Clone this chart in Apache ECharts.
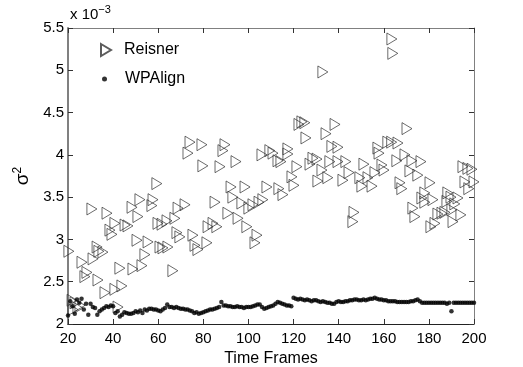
<!DOCTYPE html>
<html>
<head>
<meta charset="utf-8">
<script src="https://cdn.jsdelivr.net/npm/echarts@6/dist/echarts.min.js"></script>
<style>
  html, body { margin: 0; padding: 0; background: #fff; }
  #chart { width: 523px; height: 367px; }
</style>
</head>
<body>
<div id="chart"></div>
<script>
// Reisner: frame / variance (x 1e-3)
const reisnerX = [
  20.4, 30.6, 37.3, 40.8, 38.6, 39.5, 45.3, 46.6, 48.4, 51.9, 57.7, 57.2, 51.0, 59.9, 61.7,
  63.9, 67.4, 68.8, 71.9, 68.3, 69.6, 75.4, 76.3, 77.6, 81.6, 82.1, 66.5, 50.6, 55.5, 60.8,
  62.1, 64.3, 54.1, 52.8, 48.8, 43.0, 43.9, 40.8, 36.4, 33.3, 27.5, 28.4, 26.2, 31.1, 32.9,
  33.7, 35.5, 42.2, 59.4, 74.1, 79.4, 73.2, 79.8, 21.8, 23.1, 24.4, 25.3, 22.2,
  89.6, 88.7, 87.4, 94.5, 92.3, 98.5, 85.2, 93.1, 97.1, 100.2, 102.0, 104.7, 90.9, 95.4, 99.3,
  86.0, 84.3, 103.8, 102.9,
  123.7, 125.0, 122.4, 138.4, 134.4, 125.5, 137.0, 139.7, 106.0, 109.5, 110.9, 113.1, 114.4,
  117.5, 117.5, 128.6, 130.4, 127.3, 121.5, 136.1, 139.7, 143.2, 132.6, 144.6, 119.3, 120.2,
  130.8, 135.2, 141.9, 108.2, 113.5, 115.3, 106.4, 146.8, 146.3, 133.0,
  170.3, 161.8, 163.5, 166.3, 157.4, 157.9, 151.2, 165.8, 169.4, 172.5, 176.5, 159.2, 160.1,
  156.1, 149.4, 153.0, 150.3, 154.8, 171.6, 175.1, 167.2, 168.0, 195.1, 197.3, 199.1, 196.0,
  200.0, 197.7, 180.5, 178.2, 176.9, 178.2, 181.8, 188.4, 189.8, 192.9, 188.0, 191.5, 184.0,
  185.8, 187.1, 190.2, 194.2, 190.7, 172.9, 173.8, 180.9, 182.7, 163.6, 164.0
]
const reisnerY = [
  2.86, 3.36, 3.31, 3.19, 3.11, 3.06, 3.17, 3.16, 3.38, 3.47, 3.47, 3.40, 3.27, 3.19, 3.18,
  3.22, 3.25, 3.37, 3.41, 3.08, 3.03, 3.05, 2.93, 2.88, 2.96, 3.15, 2.63, 2.99, 2.97, 2.91,
  2.90, 2.91, 2.82, 2.69, 2.65, 2.66, 2.45, 2.41, 2.37, 2.52, 2.56, 2.61, 2.73, 2.77, 2.91,
  2.86, 2.85, 2.20, 3.66, 4.15, 4.12, 4.02, 3.87, 2.28, 2.25, 2.19, 2.22, 2.17,
  4.12, 4.05, 3.86, 3.92, 3.62, 3.62, 3.44, 3.50, 3.43, 3.37, 3.41, 3.44, 3.31, 3.25, 3.15,
  3.15, 3.19, 3.05, 2.96,
  4.39, 4.38, 4.36, 4.36, 4.25, 4.20, 4.10, 4.09, 4.00, 4.05, 4.02, 3.93, 3.92,
  4.07, 4.01, 3.96, 3.95, 3.89, 3.86, 3.92, 3.92, 3.92, 3.82, 3.79, 3.74, 3.64,
  3.69, 3.73, 3.70, 3.62, 3.60, 3.53, 3.47, 3.32, 3.21, 4.98,
  4.31, 4.15, 4.15, 4.14, 4.08, 4.02, 3.89, 3.93, 4.00, 3.93, 3.92, 3.88, 3.82,
  3.79, 3.73, 3.73, 3.63, 3.63, 3.81, 3.76, 3.67, 3.60, 3.86, 3.84, 3.83, 3.68,
  3.68, 3.60, 3.67, 3.55, 3.49, 3.44, 3.47, 3.55, 3.50, 3.49, 3.45, 3.42, 3.30,
  3.31, 3.32, 3.35, 3.29, 3.21, 3.37, 3.27, 3.15, 3.19, 5.37, 5.20
]

// WPAlign: one value per frame, frames 20..200
const wpFirstFrame = 20
const wpalignY = [
  2.10, 2.27, 2.21, 2.12, 2.29, 2.25, 2.30, 2.17, 2.24, 2.11,
  2.24, 2.20, 2.19, 2.11, 2.15, 2.17, 2.19, 2.21, 2.20, 2.22,
  2.21, 2.13, 2.15, 2.09, 2.11, 2.14, 2.13, 2.12, 2.12, 2.13,
  2.15, 2.14, 2.16, 2.13, 2.17, 2.16, 2.18, 2.18, 2.17, 2.17,
  2.16, 2.15, 2.17, 2.19, 2.23, 2.20, 2.20, 2.19, 2.20, 2.19,
  2.18, 2.18, 2.17, 2.17, 2.16, 2.15, 2.13, 2.14, 2.12, 2.13,
  2.14, 2.15, 2.16, 2.17, 2.17, 2.18, 2.19, 2.20, 2.26, 2.22,
  2.22, 2.21, 2.21, 2.20, 2.20, 2.21, 2.20, 2.20, 2.19, 2.20,
  2.20, 2.20, 2.21, 2.22, 2.23, 2.23, 2.20, 2.18, 2.19, 2.20,
  2.21, 2.22, 2.24, 2.26, 2.25, 2.24, 2.23, 2.22, 2.22, 2.21,
  2.31, 2.30, 2.29, 2.30, 2.29, 2.28, 2.29, 2.28, 2.27, 2.28,
  2.28, 2.27, 2.26, 2.27, 2.26, 2.25, 2.25, 2.24, 2.24, 2.26,
  2.27, 2.26, 2.26, 2.27, 2.27, 2.28, 2.28, 2.29, 2.29, 2.28,
  2.28, 2.29, 2.28, 2.29, 2.30, 2.30, 2.31, 2.30, 2.29, 2.29,
  2.28, 2.28, 2.27, 2.27, 2.27, 2.27, 2.26, 2.26, 2.26, 2.26,
  2.26, 2.26, 2.27, 2.27, 2.28, 2.29, 2.27, 2.25, 2.25, 2.25,
  2.25, 2.25, 2.25, 2.25, 2.25, 2.25, 2.25, 2.25, 2.24, 2.25,
  2.15, 2.25, 2.25, 2.25, 2.25, 2.25, 2.25, 2.25, 2.25, 2.25,
  2.25
]

const fontFamily = 'Liberation Sans, Arial, Helvetica, sans-serif'
const triPath = 'path://M0,0 L10,6 L0,12 Z'

const chart = echarts.init(document.getElementById('chart'), null, { renderer: 'canvas' })

const axisLineStyle = { color: '#808080', width: 1 }
const mirrorAxis = {
  axisLine: { show: true, lineStyle: axisLineStyle },
  axisTick: { show: true, inside: true, length: 5, lineStyle: { color: '#333' } },
  axisLabel: { show: false },
  splitLine: { show: false }
}
const legendText = { fontSize: 16, color: '#000', fontFamily: fontFamily }

const option = {
  animation: false,
  backgroundColor: '#fff',
  textStyle: { fontFamily: fontFamily },
  // outerBoundsMode none：不让标签把绘图区挤小
  grid: { left: 68, right: 49, top: 28, bottom: 43, outerBoundsMode: 'none' },
  // 两个图例分开放，这样点的图标可以比三角小
  legend: [{
    left: 95,
    top: 37,
    itemWidth: 10,
    itemHeight: 12,
    itemGap: 0,
    textStyle: Object.assign({ padding: [0, 0, 0, 8] }, legendText),
    data: ['Reisner']
  }, {
    left: 97,
    top: 66,
    itemWidth: 5,
    itemHeight: 5,
    textStyle: Object.assign({ padding: [0, 0, 0, 13] }, legendText),
    data: ['WPAlign']
  }],
  xAxis: [{
    type: 'value',
    min: 20,
    max: 200,
    interval: 20,
    name: 'Time Frames',
    nameLocation: 'middle',
    nameGap: 20,
    nameTextStyle: { fontSize: 16, color: '#000' },
    axisLine: { show: true, onZero: false, lineStyle: { color: '#222', width: 1 } },
    axisTick: { show: true, inside: true, length: 5, lineStyle: { color: '#333' } },
    axisLabel: { fontSize: 15, color: '#000', margin: 7 },
    splitLine: { show: false }
  }, Object.assign({
    type: 'value', position: 'top', min: 20, max: 200, interval: 20
  }, mirrorAxis)],
  yAxis: [{
    type: 'value',
    min: 2,
    max: 5.5,
    interval: 0.5,
    name: '{s|σ}{p|2}',
    nameLocation: 'middle',
    nameGap: 26,
    nameRotate: 90,
    nameTextStyle: {
      rich: {
        s: { fontSize: 19, color: '#000', fontFamily: fontFamily },
        p: { fontSize: 12, color: '#000', verticalAlign: 'top', padding: [0, 0, 10, 0], fontFamily: fontFamily }
      }
    },
    axisLine: { show: true, onZero: false, lineStyle: { color: '#808080', width: 2 } },
    axisTick: { show: true, inside: true, length: 5, lineStyle: { color: '#333' } },
    axisLabel: { fontSize: 15, color: '#000', margin: 4 },
    splitLine: { show: false }
  }, Object.assign({
    type: 'value', position: 'right', min: 2, max: 5.5, interval: 0.5
  }, mirrorAxis)],
  graphic: [{
    type: 'text',
    left: 70,
    top: 4,
    style: {
      text: '{a|x 10}{b|−3}',
      rich: {
        a: { fontSize: 15, fill: '#000', fontFamily: fontFamily },
        b: { fontSize: 11, fill: '#000', verticalAlign: 'top', padding: [0, 0, 10, 0], fontFamily: fontFamily }
      }
    }
  }],
  series: [{
    name: 'Reisner',
    type: 'scatter',
    symbol: triPath,
    symbolSize: [10, 12],
    itemStyle: { color: 'rgba(255,255,255,0)', borderColor: '#333', borderWidth: 0.9 },
    data: reisnerX.map((x, i) => [x, reisnerY[i]])
  }, {
    name: 'WPAlign',
    type: 'scatter',
    symbol: 'circle',
    symbolSize: 4.5,
    itemStyle: { color: '#000' },
    data: wpalignY.map((v, i) => [wpFirstFrame + i, v])
  }]
}

chart.setOption(option)
</script>
</body>
</html>
